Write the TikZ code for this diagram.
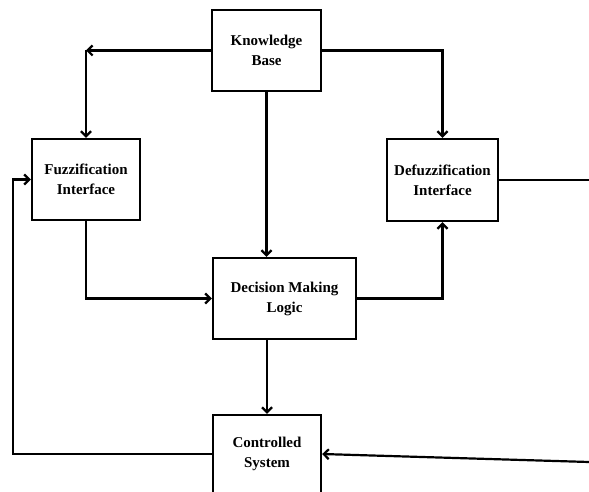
\documentclass[tikz,border=0pt]{standalone}
\usepackage{fontspec}
\setmainfont{Liberation Serif}
\usetikzlibrary{positioning,arrows.meta}

\begin{document}
\begin{tikzpicture}[x=1pt,y=-1pt,
		>={Straight Barb[length=5pt,width=10pt]},
		block/.style={draw,line width=2.4pt,align=center,inner sep=0pt,
			font=\fontsize{15}{20}\selectfont\bfseries},
		link/.style={line width=2.2pt,->}]
			\useasboundingbox (0,0) rectangle (589,492);
			% boxes
			\node[block,minimum width=109pt,minimum height=81pt] (kb) at (266.5,50.5) {Knowledge\\Base};
			\node[block,minimum width=108pt,minimum height=81pt] (fuzz) at (86,179.5) {Fuzzification\\Interface};
			\node[block,minimum width=111pt,minimum height=82pt] (defuzz) at (442.5,180) {Defuzzification\\Interface};
			\node[block,minimum width=143pt,minimum height=81pt] (dml) at (284.5,298.5) {Decision Making\\Logic};
			\node[block,minimum width=108pt,minimum height=78pt] (cs) at (267,454) {Controlled\\System};
			\coordinate (kbl) at (kb.west -| fuzz.north);
			\coordinate (out) at (589,180);
			\coordinate (in) at (589,462);
			\coordinate (fb) at (13,179.5);
			% connectors
			\draw[link] (kb.west) -- (kbl);
			\draw[link] (kbl) -- (fuzz.north);
			\draw[link] (kb.east) -| (defuzz.north);
			\draw[link] (kb.south) -- (kb.south |- dml.north);
			\draw[link] (fuzz.south) |- (dml.west);
			\draw[link] (dml.east) -| (defuzz.south);
			\draw[line width=2.2pt] (defuzz.east) -- (out);
			\draw[link] (cs.north |- dml.south) -- (cs.north);
			\draw[link] (cs.west) -| (fb) -- (fuzz.west);
			\draw[link] (in) -- (cs.east);
		\end{tikzpicture}
\end{document}
